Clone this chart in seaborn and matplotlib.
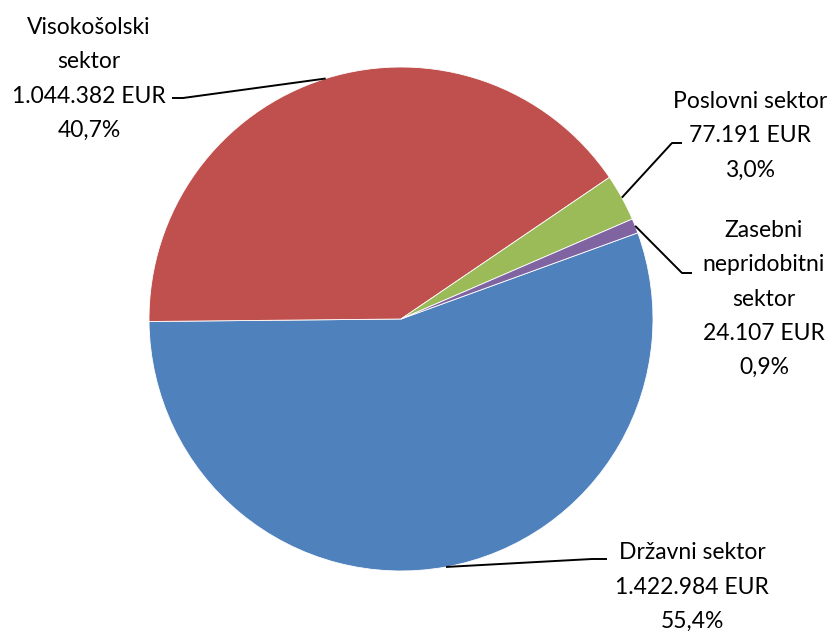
import numpy as np
import matplotlib
matplotlib.use("Agg")
import matplotlib.pyplot as plt
import seaborn as sns

# ---- data ----
sectors = ["Državni sektor", "Visokošolski\nsektor", "Poslovni sektor", "Zasebni\nnepridobitni\nsektor"]
values = [1422984, 1044382, 77191, 24107]
value_labels = ["1.422.984 EUR", "1.044.382 EUR", "77.191 EUR", "24.107 EUR"]
pct_labels = ["55,4%", "40,7%", "3,0%", "0,9%"]
colors = ["#4F81BD", "#C0504D", "#9BBB59", "#8064A2"]

# ---- layout (pixel coordinates, y measured from top) ----
W, H = 836, 633
center_px = (401, 319)
radius_px = 252
label_pos = [(692, 587), (89, 79), (750, 136), (764, 299)]
leader_pts = [
    [(592, 559), (607, 559)],
    [(183, 98), (172, 98)],
    [(672, 143), (682, 143)],
    [(682, 273), (692, 273)],
]

sns.set_theme(style="white")
plt.rcParams["font.family"] = ["Lato", "DejaVu Sans"]
palette = sns.color_palette(colors)

fig = plt.figure(figsize=(W / 100, H / 100), dpi=100)
ax = fig.add_axes([0, 0, 1, 1])
wedges, _ = ax.pie(values, colors=palette, startangle=20, counterclock=False,
                   radius=radius_px, center=(center_px[0], H - center_px[1]),
                   wedgeprops=dict(edgecolor="white", linewidth=0.6))
ax.set_xlim(0, W)
ax.set_ylim(0, H)
ax.set_aspect("equal")
ax.axis("off")

for i, w in enumerate(wedges):
    mid = np.deg2rad((w.theta1 + w.theta2) / 2)
    sx = w.center[0] + w.r * np.cos(mid)
    sy = w.center[1] + w.r * np.sin(mid)
    xs = [sx] + [p[0] for p in leader_pts[i]]
    ys = [sy] + [H - p[1] for p in leader_pts[i]]
    ax.plot(xs, ys, color="black", lw=1.4, solid_capstyle="butt")
    txt = f"{sectors[i]}\n{value_labels[i]}\n{pct_labels[i]}"
    lx, ly = label_pos[i]
    ax.text(lx, H - ly, txt, ha="center", va="center", multialignment="center",
            fontsize=16.5, linespacing=1.78, color="black")

fig.savefig("out.png", dpi=100)
